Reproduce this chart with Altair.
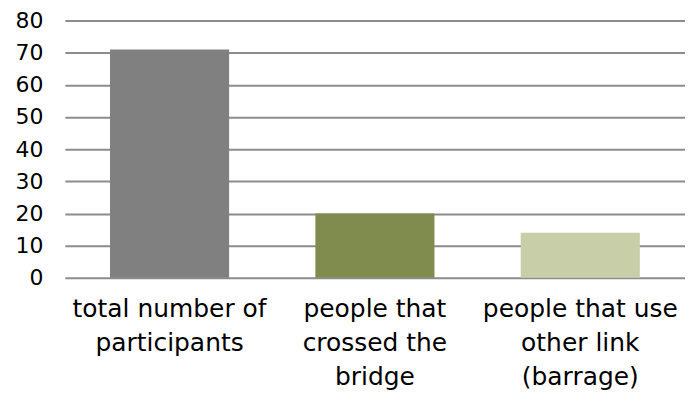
import altair as alt
import pandas as pd

categories = ["total number of\nparticipants", "people that\ncrossed the\nbridge", "people that use\nother link\n(barrage)"]
values = [71, 20, 14]
colors = ["#808080", "#7F8C4D", "#C8CFA8"]

df = pd.DataFrame({"cat": categories, "val": values, "color": colors})

chart = alt.Chart(df).mark_bar().encode(
    x=alt.X("cat:N", sort=categories, title=None,
            scale=alt.Scale(paddingInner=0.42, paddingOuter=0.22),
            axis=alt.Axis(labelAngle=0, labelExpr="split(datum.value, '\\n')",
                          labelFontSize=25, labelLineHeight=34, labelFont="DejaVu Sans",
                          labelColor="#000000", ticks=False, domain=False,
                          labelPadding=19, labelBaseline="top", labelLimit=300)),
    y=alt.Y("val:Q", title=None,
            scale=alt.Scale(domain=[0, 80]),
            axis=alt.Axis(values=[0,10,20,30,40,50,60,70,80], labelFontSize=22,
                          labelFont="DejaVu Sans", labelColor="#000000",
                          ticks=False, domain=False, labelPadding=22,
                          gridColor="#8c8c8c", gridWidth=2, gridOpacity=1)),
    color=alt.Color("color:N", scale=None, legend=None),
).properties(
    width=622, height=258,
    autosize=alt.AutoSizeParams(type="none"),
    padding={"left": 57, "top": 12, "right": 0, "bottom": 116},
).configure_view(stroke=None)

chart.save("out.html", embed_options={"renderer": "svg", "actions": False})
